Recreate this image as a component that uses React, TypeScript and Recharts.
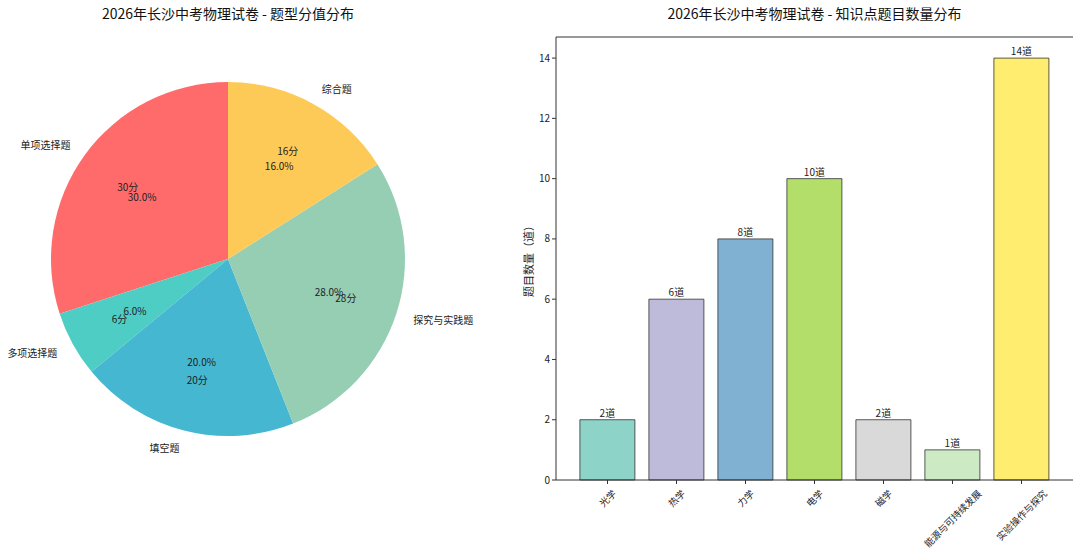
import React from 'react';
import { PieChart, Pie, Cell, BarChart, Bar, XAxis, YAxis, LabelList } from 'recharts';

const FONT = "'Noto Sans CJK SC', 'DejaVu Sans', sans-serif";

const pieNames = ['单项选择题', '多项选择题', '填空题', '探究与实践题', '综合题'];
const pieScores = [30, 6, 20, 28, 16];
const pieColors = ['#FF6B6B', '#4ECDC4', '#45B7D1', '#96CEB4', '#FECA57'];

const barNames = ['光学', '热学', '力学', '电学', '磁学', '能源与可持续发展', '实验操作与探究'];
const barCounts = [2, 6, 8, 10, 2, 1, 14];
const barColors = ['#8DD3C7', '#BEBADA', '#80B1D3', '#B3DE69', '#D9D9D9', '#CCEBC5', '#FFED6F'];
const yTicks = [0, 2, 4, 6, 8, 10, 12, 14];

const pieData = pieNames.map((name, i) => ({ name, value: pieScores[i] }));
const barData = barNames.map((name, i) => ({ name, count: barCounts[i] }));

const RAD = Math.PI / 180;

function PieLabel(props: any) {
  const { cx, cy, midAngle, outerRadius, percent, name, value } = props;
  const c = Math.cos(-midAngle * RAD);
  const s = Math.sin(-midAngle * RAD);
  const at = (k: number) => ({ x: cx + outerRadius * k * c, y: cy + outerRadius * k * s });
  const outer = at(1.1);
  const pct = at(0.6);
  const score = at(0.7);
  return (
    <g fontFamily={FONT}>
      <text x={outer.x} y={outer.y} textAnchor={c >= 0 ? 'start' : 'end'} dominantBaseline="central" fontSize={10} fill="#222">
        {name}
      </text>
      <text x={pct.x} y={pct.y} textAnchor="middle" dominantBaseline="central" fontSize={10} fill="#222">
        {(percent * 100).toFixed(1)}%
      </text>
      <text x={score.x} y={score.y} textAnchor="middle" dominantBaseline="central" fontSize={10} fill="#222">
        {value}分
      </text>
    </g>
  );
}

// rotated 45°, centred under the tick like matplotlib's ha='center'
function XTick(props: any) {
  const { x, y, payload } = props;
  const fs = 9.5;
  const label = String(payload.value);
  const half = ((label.length + 1) * fs * 0.707) / 2;
  const cy = y + 2 + half;
  return (
    <text
      x={x}
      y={cy}
      textAnchor="middle"
      dominantBaseline="central"
      fontSize={fs}
      fill="#222"
      fontFamily={FONT}
      transform={`rotate(-45, ${x}, ${cy})`}
    >
      {label}
    </text>
  );
}

const titleStyle: React.CSSProperties = {
  position: 'absolute',
  top: 3,
  fontFamily: FONT,
  fontSize: 14,
  color: '#111',
  textAlign: 'center',
  whiteSpace: 'nowrap',
};

export default function App() {
  return (
    <div style={{ position: 'absolute', left: 0, top: 0, width: 1080, height: 556, background: '#fff' }}>
      <div style={{ ...titleStyle, left: 0, width: 456 }}>2026年长沙中考物理试卷 - 题型分值分布</div>
      <div style={{ ...titleStyle, left: 556, width: 517 }}>2026年长沙中考物理试卷 - 知识点题目数量分布</div>

      <div style={{ position: 'absolute', left: 0, top: 0 }}>
        <PieChart width={500} height={556} margin={{ top: 0, right: 0, bottom: 0, left: 0 }}>
          <Pie
            data={pieData}
            dataKey="value"
            nameKey="name"
            cx={228}
            cy={259}
            outerRadius={177}
            startAngle={90}
            endAngle={450}
            stroke="none"
            label={PieLabel}
            labelLine={false}
            isAnimationActive={false}
          >
            {pieData.map((d, i) => (
              <Cell key={d.name} fill={pieColors[i]} />
            ))}
          </Pie>
        </PieChart>
      </div>

      <div style={{ position: 'absolute', left: 500, top: 0 }}>
        <BarChart
          width={580}
          height={556}
          data={barData}
          margin={{ top: 36, right: 7, bottom: 0, left: 0 }}
          barCategoryGap="10%"
        >
          <XAxis
            dataKey="name"
            height={76}
            padding={{ left: 17, right: 17 }}
            interval={0}
            tick={<XTick />}
            tickSize={4}
            tickLine={{ stroke: '#333' }}
            axisLine={{ stroke: '#333' }}
          />
          <XAxis xAxisId="top" orientation="top" dataKey="name" height={1} tick={false} tickLine={false} axisLine={{ stroke: '#333' }} />
          <YAxis
            width={56}
            domain={[0, 14.7]}
            ticks={yTicks}
            tickSize={4}
            tick={{ fontSize: 10, fill: '#222', fontFamily: FONT }}
            tickLine={{ stroke: '#333' }}
            axisLine={{ stroke: '#333' }}
            label={{ value: '题目数量（道）', angle: -90, position: 'center', dx: 1, fontSize: 11, fill: '#222', fontFamily: FONT }}
          />
          <YAxis yAxisId="right" orientation="right" width={0} tick={false} tickLine={false} axisLine={{ stroke: '#333' }} />
          <Bar dataKey="count" stroke="#333" strokeOpacity={0.8} strokeWidth={1} isAnimationActive={false}>
            {barData.map((d, i) => (
              <Cell key={d.name} fill={barColors[i]} />
            ))}
            <LabelList
              dataKey="count"
              position="top"
              offset={3}
              formatter={(v: any) => `${v}道`}
              style={{ fontSize: 10, fill: '#222', fontFamily: FONT }}
            />
          </Bar>
        </BarChart>
      </div>
    </div>
  );
}
